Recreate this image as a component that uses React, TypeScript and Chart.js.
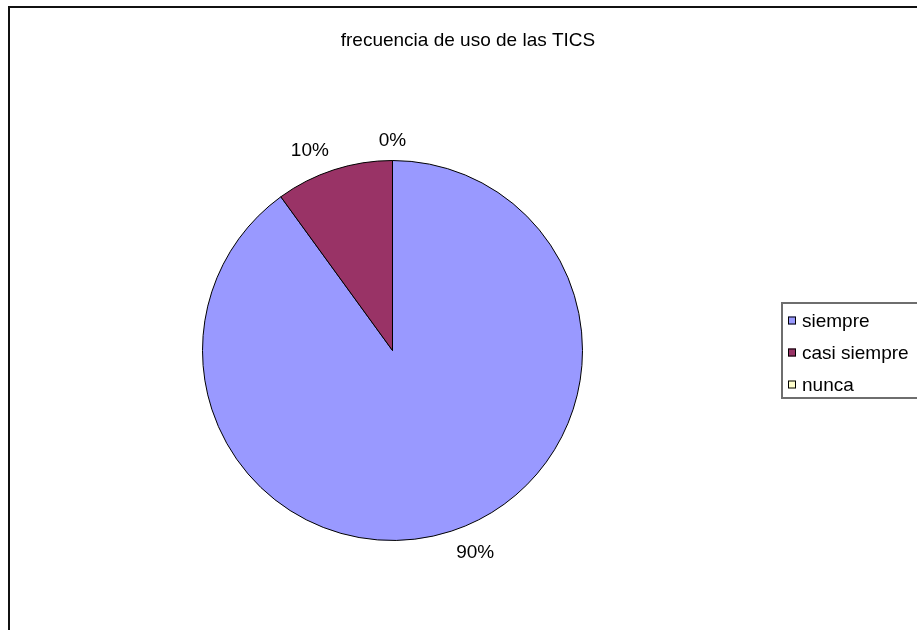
import React, { useEffect, useRef } from "react";
import { Chart, registerables } from "chart.js";

Chart.register(...registerables);

const TITLE = "frecuencia de uso de las TICS";
const CATEGORIES = ["siempre", "casi siempre", "nunca"];
const VALUES = [90, 10, 0];
const COLORS = ["#9999FF", "#993366", "#FFFFCC"];
const FONT = '"Liberation Sans", Arial, sans-serif';

const decorPlugin = {
  id: "decor",
  afterDraw(chart: any) {
    const ctx = chart.ctx as CanvasRenderingContext2D;
    ctx.save();
    // outer frame
    ctx.strokeStyle = "#111";
    ctx.lineWidth = 2;
    ctx.strokeRect(9, 7, 1200, 1200);

    // title
    ctx.fillStyle = "#000";
    ctx.font = `19px ${FONT}`;
    ctx.textAlign = "center";
    ctx.textBaseline = "middle";
    ctx.fillText(TITLE, 468, 41);

    // percentage labels
    const meta = chart.getDatasetMeta(0);
    const total = VALUES.reduce((a, b) => a + b, 0);
    meta.data.forEach((arc: any, i: number) => {
      const mid = (arc.startAngle + arc.endAngle) / 2;
      const dx = Math.cos(mid);
      const dy = Math.sin(mid);
      const R = arc.outerRadius + 16;
      const px = arc.x + dx * R;
      const py = arc.y + dy * R;
      const txt = Math.round((VALUES[i] / total) * 100) + "%";
      ctx.textAlign = Math.abs(dx) < 0.1 ? "center" : dx > 0 ? "left" : "right";
      ctx.textBaseline = dy > 0 ? "top" : "alphabetic";
      ctx.fillText(txt, px, dy > 0 ? py - 3 : py + 1);
    });

    // legend
    ctx.strokeStyle = "#6e6e6e";
    ctx.lineWidth = 2;
    ctx.strokeRect(782, 303, 400, 95);
    ctx.textAlign = "left";
    ctx.textBaseline = "middle";
    CATEGORIES.forEach((c, i) => {
      const y = 320.5 + i * 32;
      ctx.fillStyle = COLORS[i];
      ctx.fillRect(788, y - 4, 8, 8);
      ctx.strokeStyle = "#000";
      ctx.lineWidth = 1;
      ctx.strokeRect(788.5, y - 3.5, 7, 7);
      ctx.fillStyle = "#000";
      ctx.fillText(c, 802, y + 1);
    });
    ctx.restore();
  },
};

export default function App() {
  const ref = useRef<HTMLCanvasElement | null>(null);
  useEffect(() => {
    if (!ref.current) return;
    const chart = new Chart(ref.current, {
      type: "pie",
      data: {
        labels: CATEGORIES,
        datasets: [
          {
            data: VALUES,
            backgroundColor: COLORS,
            borderColor: "#000",
            borderWidth: 1,
          },
        ],
      },
      options: {
        animation: false,
        responsive: false,
        layout: { padding: { left: 202, top: 160, right: 334, bottom: 89 } },
        plugins: {
          legend: { display: false },
          title: { display: false },
          tooltip: { enabled: false },
        },
      },
      plugins: [decorPlugin],
    });
    return () => chart.destroy();
  }, []);
  return (
    <div style={{ position: "fixed", left: 0, top: 0, width: 917, height: 630, background: "#fff" }}>
      <canvas ref={ref} width={917} height={630} style={{ width: 917, height: 630 }} />
    </div>
  );
}
